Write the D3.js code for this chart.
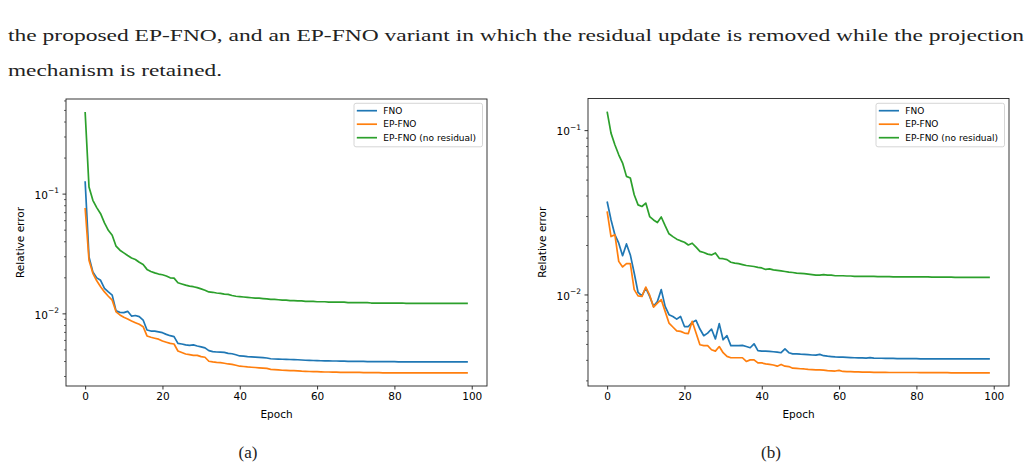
<!DOCTYPE html>
<html>
<head>
<meta charset="utf-8">
<script src="https://cdn.jsdelivr.net/npm/d3@7"></script>
<style>
  body { margin: 0; background: #fff; }
  svg { display: block; }
</style>
</head>
<body>
<div id="fig"></div>
<script>
const FRAME_WIDTH = 1030;
const FRAME_HEIGHT = 469;

// epochs 0..99
const epochs = d3.range(100);
const seriesNames = ["FNO", "EP-FNO", "EP-FNO (no residual)"];
const seriesColors = ["#1f77b4", "#ff7f0e", "#2ca02c"];
const xTicks = [0, 20, 40, 60, 80, 100];
const yMajor = [0.01, 0.1];

// (a) values
const fnoA = [0.127, 0.0296, 0.0222, 0.0198, 0.0189, 0.0162, 0.0151, 0.0142, 0.0105, 0.0102,
  0.01015, 0.0104, 0.0095, 0.0096, 0.0094, 0.0088, 0.00726, 0.00712, 0.0071, 0.0070,
  0.0069, 0.00668, 0.00651, 0.0064, 0.00562, 0.00555, 0.00545, 0.0054, 0.00545, 0.00534,
  0.00525, 0.00515, 0.00488, 0.00479, 0.00476, 0.00474, 0.00472, 0.00464, 0.0046, 0.00451,
  0.00441, 0.0044, 0.00435, 0.00433, 0.00431, 0.00429, 0.00427, 0.00424, 0.00418, 0.00416,
  0.00415, 0.00414, 0.00413, 0.00412, 0.00411, 0.0041, 0.00408, 0.00406, 0.00405, 0.00404,
  0.00403, 0.00402, 0.00401, 0.00401, 0.004, 0.004, 0.00399, 0.00399, 0.00398, 0.00398,
  0.00397, 0.00397, 0.00397, 0.00396, 0.00396, 0.00396, 0.00395, 0.00395, 0.00395, 0.00395,
  0.00395, 0.00394, 0.00394, 0.00394, 0.00394, 0.00394, 0.00394, 0.00393, 0.00393, 0.00393,
  0.00393, 0.00393, 0.00393, 0.00393, 0.00393, 0.00393, 0.00393, 0.00393, 0.00393, 0.00393];
const epA = [0.0759, 0.0278, 0.0216, 0.0187, 0.0167, 0.0151, 0.0139, 0.0129, 0.0103, 0.0097,
  0.00927, 0.00897, 0.00863, 0.00836, 0.0081, 0.00774, 0.00648, 0.00632, 0.0062, 0.00609,
  0.00588, 0.00574, 0.00561, 0.00555, 0.00485, 0.00471, 0.00458, 0.00452, 0.00446, 0.00446,
  0.00435, 0.0043, 0.00398, 0.00393, 0.0039, 0.00388, 0.00383, 0.00378, 0.00375, 0.00369,
  0.00362, 0.0036, 0.00357, 0.00355, 0.00353, 0.00351, 0.00349, 0.00347, 0.00341, 0.00339,
  0.00337, 0.00335, 0.00334, 0.00333, 0.00332, 0.00331, 0.00329, 0.00328, 0.00327, 0.00326,
  0.00326, 0.00325, 0.00324, 0.00324, 0.00323, 0.00323, 0.00322, 0.00322, 0.00322, 0.00321,
  0.00321, 0.00321, 0.0032, 0.0032, 0.0032, 0.0032, 0.0032, 0.00319, 0.00319, 0.00319,
  0.00319, 0.00319, 0.00319, 0.00319, 0.00318, 0.00318, 0.00318, 0.00318, 0.00318, 0.00318,
  0.00318, 0.00318, 0.00318, 0.00318, 0.00318, 0.00318, 0.00318, 0.00318, 0.00318, 0.00318];
const nrA = [0.48, 0.1135, 0.088, 0.0764, 0.068, 0.0569, 0.0494, 0.0449, 0.0364, 0.0337,
  0.032, 0.0304, 0.029, 0.0282, 0.0267, 0.0256, 0.0233, 0.0224, 0.0218, 0.0213,
  0.021, 0.0205, 0.0198, 0.0197, 0.018, 0.0176, 0.0172, 0.0169, 0.0167, 0.0164,
  0.016, 0.0156, 0.0151, 0.015, 0.0148, 0.0147, 0.0145, 0.0144, 0.0141, 0.0139,
  0.0138, 0.0137, 0.0136, 0.0135, 0.0134, 0.0134, 0.0133, 0.0132, 0.0131, 0.0131,
  0.013, 0.0129, 0.0129, 0.0128, 0.0128, 0.0127, 0.0127, 0.0126, 0.0126, 0.0126,
  0.0125, 0.0125, 0.0125, 0.0124, 0.0124, 0.0124, 0.0124, 0.0124, 0.0123, 0.0123,
  0.0123, 0.0123, 0.0123, 0.0123, 0.0122, 0.0122, 0.0122, 0.0122, 0.0122, 0.0122,
  0.0122, 0.0122, 0.0122, 0.0121, 0.0121, 0.0121, 0.0121, 0.0121, 0.0121, 0.0121,
  0.0121, 0.0121, 0.0121, 0.0121, 0.0121, 0.0121, 0.0121, 0.0121, 0.0121, 0.0121];

// (b)
const fnoB = [0.0368, 0.0285, 0.0231, 0.0205, 0.0172, 0.0203, 0.0174, 0.0135, 0.01028, 0.0098,
  0.01094, 0.00973, 0.00846, 0.00906, 0.0107, 0.00846, 0.00753, 0.00735, 0.00708, 0.00735,
  0.00638, 0.00638, 0.00676, 0.00696, 0.00616, 0.00561, 0.00582, 0.00616, 0.00536, 0.00664,
  0.0053, 0.00561, 0.00488, 0.00488, 0.00488, 0.0049, 0.00482, 0.00474, 0.00501, 0.00455,
  0.00452, 0.00452, 0.0045, 0.00448, 0.00446, 0.00442, 0.00466, 0.00442, 0.00435, 0.00435,
  0.00433, 0.00432, 0.0043, 0.00428, 0.00427, 0.00432, 0.00424, 0.00421, 0.00419, 0.00417,
  0.00416, 0.00415, 0.00414, 0.00413, 0.00412, 0.00411, 0.00411, 0.0041, 0.00413, 0.0041,
  0.00409, 0.00409, 0.00408, 0.00408, 0.00408, 0.00407, 0.00407, 0.00407, 0.00407, 0.00407,
  0.00407, 0.00406, 0.00406, 0.00406, 0.00406, 0.00406, 0.00406, 0.00406, 0.00405, 0.00405,
  0.00405, 0.00405, 0.00405, 0.00405, 0.00405, 0.00405, 0.00405, 0.00405, 0.00405, 0.00405];
const epB = [0.032, 0.0225, 0.0231, 0.0159, 0.0147, 0.0154, 0.0154, 0.0107, 0.0098, 0.00973,
  0.0111, 0.0099, 0.00838, 0.00886, 0.0093, 0.00789, 0.0067, 0.00634, 0.00601, 0.00596,
  0.00582, 0.00578, 0.00686, 0.00582, 0.00494, 0.00488, 0.00488, 0.00461, 0.00452, 0.00482,
  0.00442, 0.0042, 0.00412, 0.00412, 0.00412, 0.00412, 0.00391, 0.004, 0.004, 0.00383,
  0.00383, 0.00378, 0.00375, 0.00372, 0.00366, 0.00375, 0.00366, 0.00364, 0.00356, 0.00355,
  0.00353, 0.00352, 0.0035, 0.00349, 0.00348, 0.00348, 0.00346, 0.00344, 0.00343, 0.00342,
  0.00345, 0.0034, 0.00339, 0.00339, 0.00338, 0.00338, 0.00337, 0.00337, 0.00337, 0.00336,
  0.00336, 0.00336, 0.00336, 0.00335, 0.00335, 0.00335, 0.00335, 0.00335, 0.00335, 0.00335,
  0.00335, 0.00334, 0.00334, 0.00334, 0.00334, 0.00334, 0.00334, 0.00334, 0.00334, 0.00333,
  0.00333, 0.00333, 0.00333, 0.00333, 0.00333, 0.00333, 0.00333, 0.00333, 0.00333, 0.00333];
const nrB = [0.1297, 0.0959, 0.0814, 0.0708, 0.063, 0.0523, 0.0511, 0.0404, 0.0351, 0.0343,
  0.036, 0.0298, 0.0284, 0.0274, 0.0296, 0.0262, 0.0234, 0.0225, 0.0217, 0.0212,
  0.0208, 0.02, 0.0205, 0.0194, 0.0183, 0.018, 0.0176, 0.0174, 0.0179, 0.0166,
  0.0165, 0.0163, 0.0157, 0.0155, 0.0154, 0.0152, 0.015, 0.0149, 0.0148, 0.0146,
  0.0145, 0.0142, 0.0143, 0.0141, 0.014, 0.0139, 0.0138, 0.01367, 0.0136, 0.0135,
  0.01345, 0.0134, 0.0133, 0.0132, 0.0131, 0.0131, 0.0132, 0.0131, 0.0131, 0.013,
  0.013, 0.013, 0.01295, 0.01295, 0.0129, 0.0129, 0.0129, 0.0129, 0.0129, 0.0129,
  0.01285, 0.01285, 0.01285, 0.01285, 0.0128, 0.0128, 0.0128, 0.0128, 0.0128, 0.0128,
  0.0128, 0.0128, 0.0128, 0.0128, 0.01275, 0.01275, 0.01275, 0.01275, 0.01275, 0.01275,
  0.0127, 0.0127, 0.0127, 0.0127, 0.0127, 0.0127, 0.0127, 0.0127, 0.0127, 0.0127];

const introLines = [
  "the proposed EP-FNO, and an EP-FNO variant in which the residual update is removed while the projection",
  "mechanism is retained."
];
const captions = ["(a)", "(b)"];

const svg = d3.select("#fig").append("svg")
  .attr("width", FRAME_WIDTH)
  .attr("height", FRAME_HEIGHT);

svg.append("rect").attr("width", FRAME_WIDTH).attr("height", FRAME_HEIGHT).attr("fill", "#fff");

const SERIF = "Liberation Serif, DejaVu Serif, serif";

// paper text above the figure
svg.append("text")
  .attr("x", 8).attr("y", 41)
  .attr("font-family", SERIF)
  .attr("font-size", 17).attr("fill", "#222")
  .attr("textLength", 1016).attr("lengthAdjust", "spacingAndGlyphs")
  .text(introLines[0]);
svg.append("text")
  .attr("x", 8).attr("y", 76)
  .attr("font-family", SERIF)
  .attr("font-size", 17).attr("fill", "#222")
  .attr("textLength", 214).attr("lengthAdjust", "spacingAndGlyphs")
  .text(introLines[1]);

const panels = [
  {left: 66, right: 487, top: 99, bottom: 386, series: [fnoA, epA, nrA], caption: captions[0], capX: 248},
  {left: 588, right: 1009, top: 98.5, bottom: 386, series: [fnoB, epB, nrB], caption: captions[1], capX: 771}
];

const FONT = "DejaVu Sans, sans-serif";

panels.forEach(p => {
  const g = svg.append("g");

  // matplotlib style 5% margins
  const xs = d3.scaleLinear().domain([-4.95, 103.95]).range([p.left, p.right]);
  const all = p.series.flat();
  const lo = Math.log10(d3.min(all)), hi = Math.log10(d3.max(all));
  const pad = (hi - lo) * 0.05;
  const ys = d3.scaleLog().domain([10 ** (lo - pad), 10 ** (hi + pad)]).range([p.bottom, p.top]);

  // minor ticks on log axis
  const minor = [];
  [0.001, 0.01, 0.1].forEach(b => { for (let k = 2; k <= 9; k++) minor.push(b * k); });
  const dom = ys.domain();
  const minorIn = minor.filter(v => v >= dom[0] && v <= dom[1]);

  // lines
  const line = d3.line().x((d, i) => xs(epochs[i])).y(d => ys(d));
  p.series.forEach((s, i) => {
    g.append("path")
      .datum(s)
      .attr("fill", "none")
      .attr("stroke", seriesColors[i])
      .attr("stroke-width", 1.7)
      .attr("stroke-linejoin", "round")
      .attr("d", line);
  });

  // x axis
  const xa = g.append("g")
    .attr("transform", `translate(0, ${p.bottom})`)
    .call(d3.axisBottom(xs).tickValues(xTicks).tickSize(3.5).tickPadding(3.5).tickFormat(d3.format("d")));
  xa.select(".domain").remove();
  xa.selectAll("text").attr("font-family", FONT).attr("font-size", 10.5).attr("fill", "#000");
  xa.selectAll("line").attr("stroke", "#000").attr("stroke-width", 0.8);

  // y axis minor
  const ym = g.append("g")
    .attr("transform", `translate(${p.left}, 0)`)
    .call(d3.axisLeft(ys).tickValues(minorIn).tickSize(2).tickFormat(""));
  ym.select(".domain").remove();
  ym.selectAll("line").attr("stroke", "#000").attr("stroke-width", 0.6);

  // y axis major
  const ya = g.append("g")
    .attr("transform", `translate(${p.left}, 0)`)
    .call(d3.axisLeft(ys).tickValues(yMajor).tickSize(3.5).tickPadding(3.5).tickFormat(""));
  ya.select(".domain").remove();
  ya.selectAll("line").attr("stroke", "#000").attr("stroke-width", 0.8);
  ya.selectAll(".tick text").each(function(d) {
    const t = d3.select(this)
      .attr("font-family", FONT).attr("font-size", 10.5).attr("fill", "#000")
      .attr("dy", "0.45em");
    t.append("tspan").text("10");
    t.append("tspan").attr("font-size", 7.5).attr("dy", "-0.75em")
      .text("\u2212" + Math.round(-Math.log10(d)));
  });

  // frame
  g.append("rect")
    .attr("x", p.left).attr("y", p.top)
    .attr("width", p.right - p.left).attr("height", p.bottom - p.top)
    .attr("fill", "none").attr("stroke", "#222").attr("stroke-width", 0.9);

  // axis labels
  g.append("text")
    .attr("x", (p.left + p.right) / 2).attr("y", 418)
    .attr("text-anchor", "middle")
    .attr("font-family", FONT).attr("font-size", 10.5)
    .text("Epoch");
  g.append("text")
    .attr("transform", `translate(${p.left - 46}, ${(p.top + p.bottom) / 2}) rotate(-90)`)
    .attr("text-anchor", "middle")
    .attr("dy", "0.35em")
    .attr("font-family", FONT).attr("font-size", 10.5)
    .text("Relative error");

  // legend
  const lx = p.right - 133, ly = 103.3;
  const leg = g.append("g").attr("transform", `translate(${lx}, ${ly})`);
  leg.append("rect")
    .attr("width", 128.5).attr("height", 43.5)
    .attr("rx", 2).attr("fill", "#fff").attr("fill-opacity", 0.8)
    .attr("stroke", "#ccc").attr("stroke-width", 0.8);
  seriesNames.forEach((name, i) => {
    const cy = 7.4 + i * 13.5;
    leg.append("line")
      .attr("x1", 2.8).attr("x2", 23).attr("y1", cy).attr("y2", cy)
      .attr("stroke", seriesColors[i]).attr("stroke-width", 1.7);
    leg.append("text")
      .attr("x", 29.3).attr("y", cy).attr("dy", "0.35em")
      .attr("font-family", FONT).attr("font-size", 9)
      .text(name);
  });

  // caption
  svg.append("text")
    .attr("x", p.capX).attr("y", 458)
    .attr("text-anchor", "middle")
    .attr("font-family", SERIF)
    .attr("font-size", 17).attr("fill", "#222")
    .text(p.caption);
});
</script>
</body>
</html>
